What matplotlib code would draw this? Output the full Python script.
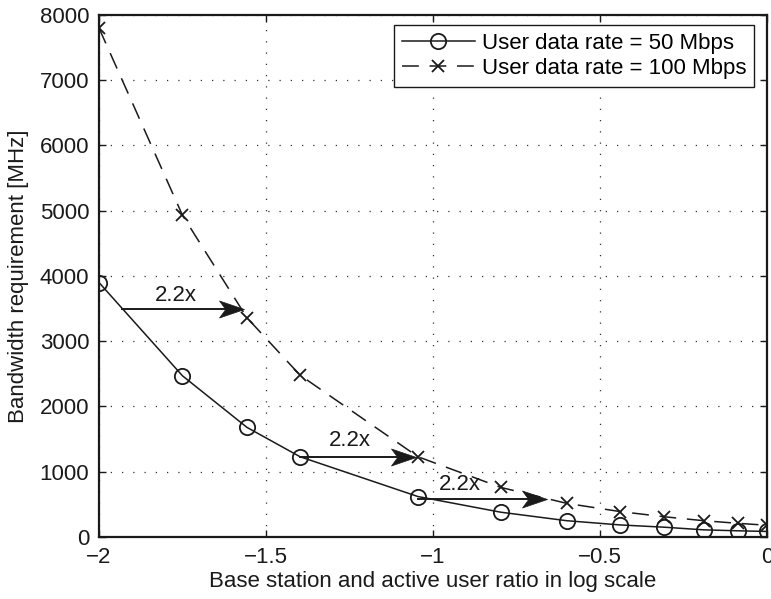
import numpy as np
import matplotlib.pyplot as plt
from matplotlib.path import Path

plt.rcParams['font.family'] = ['Liberation Sans', 'DejaVu Sans']

# log10 of base station / active user ratio
ratio_log = [-2.0, -1.75, -1.557, -1.398, -1.045, -0.797, -0.60, -0.44, -0.307, -0.19, -0.088, 0.0]
bw_50 = [3900, 2470, 1680, 1230, 620, 380, 250, 185, 150, 110, 95, 85]
bw_100 = [7800, 4930, 3360, 2480, 1230, 760, 516, 390, 310, 250, 210, 180]

# "2.2x" annotations: (x start, x end, y) and label position
arrow_x0 = [-1.93, -1.398, -1.045]
arrow_x1 = [-1.565, -1.05, -0.66]
arrow_y = [3490, 1230, 585]
label_x = [-1.77, -1.25, -0.92]
label_y = [3700, 1480, 800]

fs = 16

fig = plt.figure(figsize=(7.71, 5.99), dpi=100)
ax = fig.add_axes([0.1284, 0.1035, 0.8664, 0.8715])

ax.plot(ratio_log, bw_50, '-', color='#1a1a1a', lw=1.1, marker='o', ms=11,
        mfc='none', mec='#1a1a1a', mew=1.3, label='User data rate = 50 Mbps')
ax.plot(ratio_log, bw_100, color='#1a1a1a', lw=1.1, ls=(0, (11, 7)), marker='x', ms=8,
        mew=1.3, label='User data rate = 100 Mbps')

# stealth-like arrow head (tip at origin)
head = Path([(0, 0), (-1, 0.34), (-0.75, 0), (-1, -0.34), (0, 0)],
            [Path.MOVETO, Path.LINETO, Path.LINETO, Path.LINETO, Path.CLOSEPOLY])
for x0, x1, y, lx, ly in zip(arrow_x0, arrow_x1, arrow_y, label_x, label_y):
    ax.plot([x0, x1 - 0.05], [y, y], color='#1a1a1a', lw=1.4)
    ax.plot([x1], [y], marker=head, ms=36, color='#1a1a1a', mec='#1a1a1a', mew=0.5)
    ax.text(lx, ly, '2.2x', fontsize=fs, ha='center', va='center', color='#1a1a1a')

ax.set_xlim(-2, 0)
ax.set_ylim(0, 8000)
ax.set_xticks([-2, -1.5, -1, -0.5, 0])
ax.set_xticklabels(['\u22122', '\u22121.5', '\u22121', '\u22120.5', '0'])
ax.set_yticks(np.arange(0, 8001, 1000))
ax.tick_params(direction='in', top=True, right=True, labelsize=fs, length=5,
               width=1, colors='#1a1a1a', pad=7)
for s in ax.spines.values():
    s.set_linewidth(1.6)
    s.set_color('#1a1a1a')
ax.grid(True, color='#333333', ls=(0, (1, 8)), lw=0.9)

ax.set_xlabel('Base station and active user ratio in log scale', fontsize=fs,
              color='#1a1a1a', labelpad=2)
ax.set_ylabel('Bandwidth requirement [MHz]', fontsize=fs, color='#1a1a1a', labelpad=8)

leg = ax.legend(loc='upper right', bbox_to_anchor=(0.9805, 0.981), fontsize=fs,
                handlelength=3.3, fancybox=False, edgecolor='#1a1a1a', framealpha=1,
                borderpad=0.35, labelspacing=0.2, handletextpad=0.3, borderaxespad=0)
leg.get_frame().set_linewidth(1.0)

fig.savefig('out.png', dpi=100)
